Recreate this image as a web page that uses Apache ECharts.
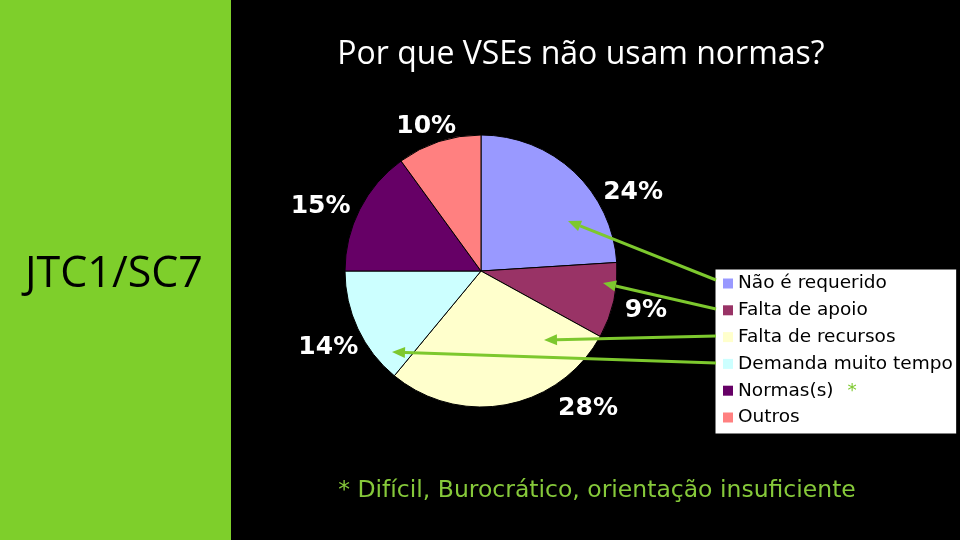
<!DOCTYPE html>
<html>
<head>
<meta charset="utf-8">
<script src="https://cdn.jsdelivr.net/npm/echarts@6/dist/echarts.min.js"></script>
<style>
html,body{margin:0;padding:0;background:#000;}
#chart{width:960px;height:540px;}
</style>
</head>
<body>
<div id="chart"></div>
<script>
// ---- data ----
const categories = ['Não é requerido', 'Falta de apoio', 'Falta de recursos', 'Demanda muito tempo', 'Normas(s)', 'Outros'];
const values = [24, 9, 28, 14, 15, 10];
const sliceColors = ['#9999FF', '#993366', '#FFFFCC', '#CCFFFF', '#660066', '#FF8080'];
const titleText = 'Por que VSEs não usam normas?';
const sideText = 'JTC1/SC7';
const footText = '* Difícil, Burocrático, orientação insuficiente';

const GREEN = '#7ECF2B';
const ARROW = '#7DC82E';

const chart = echarts.init(document.getElementById('chart'));

const pieData = categories.map((n, i) => ({ name: n, value: values[i], itemStyle: { color: sliceColors[i] } }));

// label offsets (presentation only)
const labelOffsets = [[35, 46], [-2, 2], [75, -30], [2, 4], [-8, 13], [-2, 18]];

function arrow(x1, y1, x2, y2) {
  const ang = Math.atan2(y2 - y1, x2 - x1);
  const L = 13, W = 5.5;
  const bx = x2 - L * Math.cos(ang), by = y2 - L * Math.sin(ang);
  const px = -Math.sin(ang) * W, py = Math.cos(ang) * W;
  return [
    { type: 'line', z: 50, shape: { x1: x1, y1: y1, x2: bx, y2: by }, style: { stroke: ARROW, lineWidth: 3 } },
    { type: 'polygon', z: 50, shape: { points: [[x2, y2], [bx + px, by + py], [bx - px, by - py]] }, style: { fill: ARROW } }
  ];
}

const graphics = [
  { type: 'rect', z: 0, shape: { x: 0, y: 0, width: 231, height: 540 }, style: { fill: GREEN } },
  { type: 'text', z: 5, x: 114, y: 275, style: { text: sideText, fill: '#000', fontFamily: 'Open Sans', fontSize: 43, textAlign: 'center', textVerticalAlign: 'middle' } },
  { type: 'text', z: 5, x: 597, y: 491, style: { text: footText, fill: '#86C93A', fontFamily: 'DejaVu Sans', fontSize: 23.5, textAlign: 'center', textVerticalAlign: 'middle' } }
].concat(
  arrow(716, 280, 568, 221),
  arrow(716, 309, 603, 283),
  arrow(716, 336, 544, 340),
  arrow(716, 363, 392, 352)
);

const option = {
  backgroundColor: '#000',
  animation: false,
  title: {
    text: titleText,
    left: 576,
    textAlign: 'center',
    top: 34,
    padding: 5,
    textStyle: { color: '#fff', fontFamily: 'Open Sans', fontSize: 32, fontWeight: 'normal', lineHeight: 32 }
  },
  legend: {
    orient: 'vertical',
    left: 715,
    top: 269,
    padding: [5, 4, 7, 8],
    itemGap: 7.8,
    itemWidth: 10,
    itemHeight: 10,
    icon: 'rect',
    selectedMode: false,
    backgroundColor: '#fff',
    borderColor: '#000',
    borderWidth: 1,
    itemStyle: { borderWidth: 0 },
    data: categories,
    formatter: function (name) { return name === 'Normas(s)' ? name + '{g|*}' : name; },
    textStyle: {
      color: '#000', fontFamily: 'DejaVu Sans', fontSize: 18.5, lineHeight: 18,
      rich: { g: { color: ARROW, fontFamily: 'DejaVu Sans', fontSize: 18.5, lineHeight: 18, padding: [0, 0, 0, 14] } }
    }
  },
  graphic: graphics,
  series: [
    {
      type: 'pie',
      center: [481, 271],
      radius: 136,
      startAngle: 90,
      clockwise: true,
      silent: true,
      label: { show: false },
      labelLine: { show: false },
      emphasis: { disabled: true },
      itemStyle: { borderColor: '#000', borderWidth: 1 },
      data: pieData
    },
    {
      type: 'pie',
      center: [481, 271],
      radius: [160, 176],
      startAngle: 90,
      clockwise: true,
      silent: true,
      avoidLabelOverlap: false,
      emphasis: { disabled: true },
      itemStyle: { color: 'rgba(0,0,0,0)', borderWidth: 0 },
      label: {
        show: true, position: 'inside', rotate: 0,
        formatter: '{c}%',
        color: '#fff', fontFamily: 'DejaVu Sans', fontWeight: 'bold', fontSize: 25
      },
      labelLine: { show: false },
      labelLayout: function (p) {
        const o = labelOffsets[p.dataIndex];
        return { dx: o[0], dy: o[1] };
      },
      data: values.map((v, i) => ({ name: categories[i], value: v }))
    }
  ]
};
chart.setOption(option);
</script>
</body>
</html>
